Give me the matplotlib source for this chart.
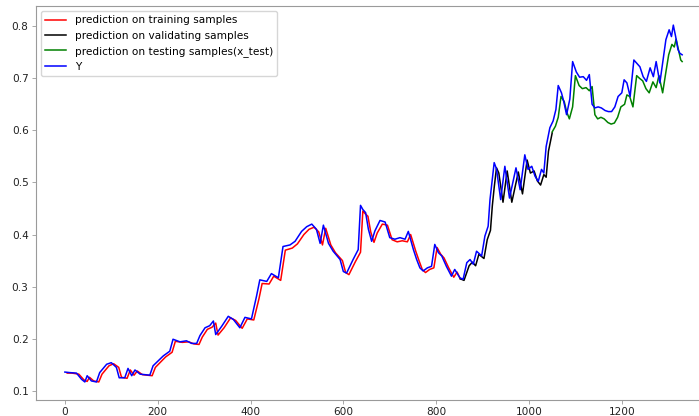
#plot true series Y against model predictions on train / validation / test ranges

import matplotlib.pyplot as plt

# true values (x index, value)
y_true = [
    (0, 0.136), (10, 0.135), (25, 0.134), (36, 0.122), (43, 0.117), (48, 0.129),
    (57, 0.119), (68, 0.117), (75, 0.135), (90, 0.151), (100, 0.154), (111, 0.145),
    (117, 0.125), (129, 0.125), (136, 0.143), (144, 0.129), (151, 0.140), (162, 0.132),
    (183, 0.130), (190, 0.148), (212, 0.167), (226, 0.176), (233, 0.199), (248, 0.194),
    (262, 0.196), (273, 0.191), (284, 0.191), (291, 0.206), (302, 0.221), (312, 0.225),
    (320, 0.234), (325, 0.208), (338, 0.224), (352, 0.243), (363, 0.237), (377, 0.221),
    (388, 0.241), (402, 0.238), (413, 0.282), (420, 0.313), (435, 0.310), (445, 0.325),
    (460, 0.317), (470, 0.377), (485, 0.380), (496, 0.387), (510, 0.406), (521, 0.415),
    (532, 0.420), (542, 0.410), (550, 0.383), (557, 0.418), (568, 0.383), (578, 0.368),
    (593, 0.352), (600, 0.329), (607, 0.326), (621, 0.352), (632, 0.371), (637, 0.456),
    (642, 0.448), (648, 0.442), (654, 0.410), (661, 0.387), (668, 0.407), (679, 0.427),
    (690, 0.424), (700, 0.394), (711, 0.391), (722, 0.394), (733, 0.391), (740, 0.406),
    (751, 0.371), (758, 0.352), (765, 0.336), (772, 0.330), (781, 0.336), (790, 0.339),
    (797, 0.381), (805, 0.365), (812, 0.359), (822, 0.339), (833, 0.320), (840, 0.333),
    (851, 0.317), (858, 0.314), (866, 0.346), (873, 0.352), (880, 0.343), (887, 0.368),
    (898, 0.359), (905, 0.397), (912, 0.416), (916, 0.467), (920, 0.499), (925, 0.538),
    (930, 0.526), (939, 0.467), (948, 0.531), (958, 0.470), (972, 0.528), (981, 0.486),
    (991, 0.553), (998, 0.525), (1006, 0.531), (1013, 0.512), (1020, 0.502), (1027, 0.525),
    (1032, 0.518), (1037, 0.569), (1045, 0.605), (1052, 0.618), (1058, 0.640), (1063, 0.686),
    (1070, 0.672), (1075, 0.655), (1081, 0.630), (1088, 0.660), (1094, 0.732), (1102, 0.712),
    (1109, 0.702), (1117, 0.703), (1124, 0.696), (1130, 0.707), (1136, 0.650), (1142, 0.643),
    (1149, 0.645), (1156, 0.643), (1164, 0.638), (1171, 0.636), (1178, 0.636), (1185, 0.645),
    (1192, 0.665), (1200, 0.672), (1205, 0.697), (1211, 0.691), (1218, 0.665), (1226, 0.735),
    (1232, 0.729), (1239, 0.722), (1246, 0.703), (1253, 0.694), (1261, 0.720), (1268, 0.703),
    (1274, 0.732), (1282, 0.691), (1289, 0.735), (1295, 0.774), (1302, 0.793), (1307, 0.780),
    (1311, 0.802), (1316, 0.780), (1321, 0.755), (1325, 0.748), (1330, 0.745),
]

# predictions on training samples
train_pred = [
    (5, 0.134), (15, 0.134), (30, 0.132), (41, 0.121), (48, 0.118), (53, 0.126),
    (62, 0.119), (73, 0.117), (80, 0.132), (95, 0.148), (105, 0.152), (116, 0.145),
    (122, 0.126), (134, 0.124), (141, 0.140), (149, 0.130), (156, 0.138), (167, 0.131),
    (188, 0.129), (195, 0.145), (217, 0.165), (231, 0.174), (238, 0.195), (253, 0.193),
    (267, 0.194), (278, 0.190), (289, 0.189), (296, 0.203), (307, 0.218), (317, 0.222),
    (325, 0.230), (330, 0.207), (343, 0.221), (357, 0.240), (368, 0.235), (382, 0.220),
    (393, 0.238), (407, 0.236), (418, 0.276), (425, 0.306), (440, 0.305), (450, 0.320),
    (465, 0.312), (475, 0.370), (490, 0.374), (501, 0.382), (515, 0.400), (526, 0.410),
    (537, 0.414), (547, 0.405), (555, 0.380), (562, 0.412), (573, 0.380), (583, 0.365),
    (598, 0.350), (605, 0.327), (612, 0.323), (626, 0.348), (637, 0.366), (642, 0.445),
    (647, 0.440), (653, 0.435), (659, 0.405), (666, 0.385), (673, 0.403), (684, 0.420),
    (695, 0.418), (705, 0.390), (716, 0.386), (727, 0.388), (738, 0.386), (745, 0.400),
    (756, 0.368), (763, 0.350), (770, 0.333), (777, 0.327), (786, 0.333), (795, 0.336),
    (802, 0.375), (810, 0.362), (817, 0.355), (827, 0.336), (838, 0.318), (845, 0.328),
    (852, 0.315),
]

# predictions on validating samples
valid_pred = [
    (852, 0.315), (860, 0.312), (871, 0.340), (878, 0.347), (885, 0.340), (892, 0.362),
    (903, 0.354), (910, 0.390), (917, 0.408), (921, 0.455), (925, 0.490), (930, 0.528),
    (935, 0.518), (944, 0.462), (953, 0.522), (963, 0.462), (977, 0.520), (986, 0.478),
    (996, 0.543), (1003, 0.518), (1011, 0.522), (1018, 0.503), (1025, 0.495), (1032, 0.515),
    (1037, 0.510), (1042, 0.560), (1050, 0.595),
]

# predictions on testing samples
test_pred = [
    (1050, 0.597), (1057, 0.608), (1063, 0.625), (1069, 0.665), (1076, 0.655), (1081, 0.636),
    (1087, 0.622), (1094, 0.645), (1100, 0.705), (1108, 0.686), (1115, 0.680), (1123, 0.682),
    (1130, 0.676), (1136, 0.684), (1142, 0.630), (1148, 0.622), (1155, 0.625), (1162, 0.622),
    (1170, 0.615), (1177, 0.612), (1184, 0.614), (1191, 0.625), (1198, 0.645), (1206, 0.650),
    (1211, 0.668), (1217, 0.665), (1224, 0.645), (1232, 0.705), (1238, 0.700), (1245, 0.695),
    (1252, 0.680), (1259, 0.672), (1267, 0.693), (1274, 0.682), (1280, 0.705), (1288, 0.672),
    (1295, 0.712), (1301, 0.745), (1308, 0.765), (1313, 0.760), (1317, 0.775), (1322, 0.755),
    (1327, 0.735), (1330, 0.732),
]


def split(pairs):
    xs = [p[0] for p in pairs]
    vs = [p[1] for p in pairs]
    return xs, vs


plt.rcParams['font.size'] = 7.6

fig = plt.figure(figsize=(6.99, 4.16), dpi=100)
ax = fig.add_axes([0.051, 0.038, 0.976, 0.948])

ax.plot(*split(train_pred), color='red', linewidth=1.1, label="prediction on training samples")
ax.plot(*split(valid_pred), color='black', linewidth=1.1, label="prediction on validating samples")
ax.plot(*split(test_pred), color='green', linewidth=1.1, label="prediction on testing samples(x_test)")
ax.plot(*split(y_true), color='blue', linewidth=1.1, label="Y")

ax.set_xlim(-63, 1407)
ax.set_ylim(0.082, 0.839)
ax.set_xticks([0, 200, 400, 600, 800, 1000, 1200])

for side in ax.spines.values():
    side.set_color('#9a9a9a')
ax.tick_params(color='#9a9a9a', labelcolor='#222222', length=2.7, width=0.6, pad=2.4)

ax.legend(loc='upper left')

plt.savefig("out.png", dpi=100)
